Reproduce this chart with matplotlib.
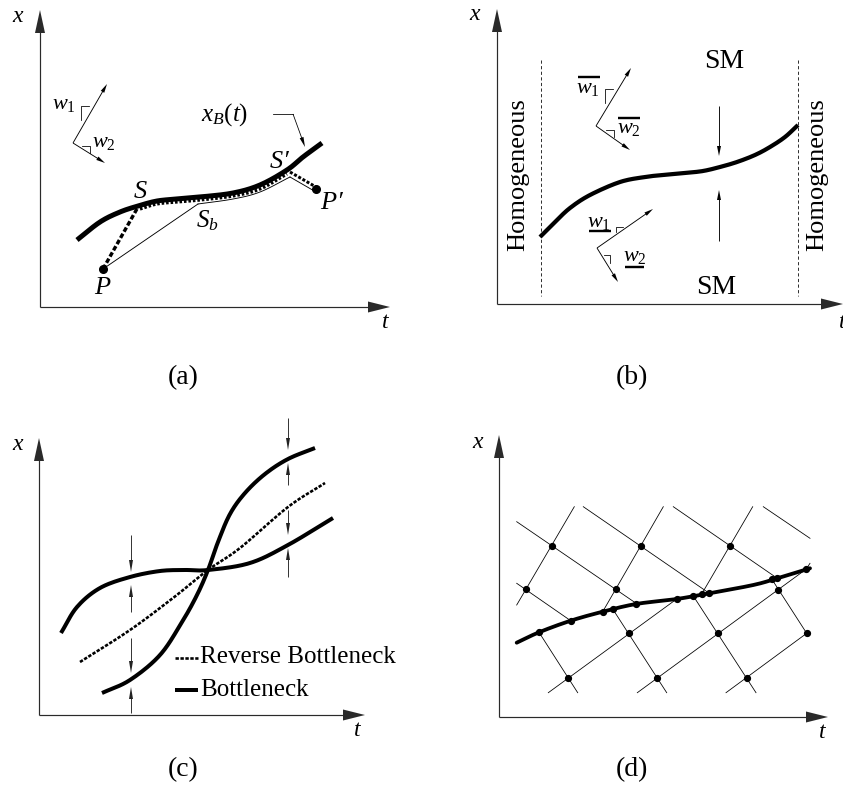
import numpy as np
import matplotlib
matplotlib.use('Agg')
import matplotlib.pyplot as plt

plt.rcParams['font.family'] = ['Liberation Serif', 'DejaVu Serif']
plt.rcParams['mathtext.fontset'] = 'custom'
plt.rcParams['mathtext.rm'] = 'Liberation Serif'
plt.rcParams['mathtext.it'] = 'Liberation Serif:italic'
plt.rcParams['mathtext.bf'] = 'Liberation Serif:bold'

# ---------------- data (figure pixel coordinates of the schematic) ----------------
# panel (a)
a_curve_t = [77, 100, 120, 138, 157, 177, 200, 233, 260, 287, 303, 322]
a_curve_x = [240, 222, 212, 206, 201, 199, 197, 193, 185, 170, 157, 143]
a_dot_t = [140, 157, 177, 200, 233, 260, 287]
a_dot_x = [209, 204, 202, 200, 196, 189, 174]
a_thin_t = [103, 198, 233, 260, 290, 316]
a_thin_x = [269, 204, 199, 192, 177, 192]
a_P = (103, 269)
a_S = (138, 207)
a_Sp = (290, 173)
a_Pp = (316, 189)

# panel (b)
b_curve_t = [540, 555, 570, 590, 620, 645, 663, 685, 703, 720, 737, 755, 770, 785, 798]
b_curve_x = [237, 222, 208, 195, 182, 177, 175, 173, 171, 167, 162, 155, 147, 137, 125]
b_bounds = [541, 798]

# panel (c)
c_up_t = [61, 77, 100, 130, 160, 185, 208, 250, 288, 333]
c_up_x = [633, 607, 588, 577, 571, 570, 570, 563, 545, 518]
c_steep_t = [102, 130, 160, 182, 197, 208, 218, 230, 245, 265, 288, 315]
c_steep_x = [693, 680, 655, 622, 595, 570, 542, 514, 493, 474, 459, 448]
c_rev_t = [80, 130, 173, 208, 240, 288, 325]
c_rev_x = [662, 630, 598, 570, 548, 507, 483]
c_arrow_t = [131, 288]
c_arrows = [[(535, 572), (612, 585), (638, 673), (713, 687)],
            [(418, 450), (485, 463), (510, 535), (577, 548)]]
c_legend = ['Reverse Bottleneck', 'Bottleneck']

# panel (d)
d_curve_t = [516.7, 539, 570.7, 602.7, 636, 676.7, 709.3, 753.3, 777.3, 810]
d_curve_x = [642.7, 632.3, 620.7, 611.7, 604, 599, 593.3, 585, 578.3, 568.3]
d_node_t = [551.7, 640.7, 730, 526, 615.7, 629, 717.7, 806.7, 568.3, 657.3, 746.7, 778.3]
d_node_x = [545.7, 545.7, 545.7, 589.3, 589.3, 633.3, 633.3, 633.3, 677.7, 677.7, 677.7, 590]
d_cross_t = [539, 570.7, 602.7, 612.7, 636, 676.7, 693.3, 701.7, 709.3, 771.7, 777.3, 806]
d_cross_x = [632.3, 620.7, 611.7, 609, 604, 599, 596, 594, 593.3, 579, 578.3, 569.3]
d_segments = [
    ((516.7, 521.7), (636.7, 603.7)), ((583.3, 506.7), (709.3, 593.3)),
    ((673.3, 506.7), (777.3, 578.3)), ((763.3, 506.7), (810, 538.3)),
    ((516.7, 583.3), (570.7, 620.7)),
    ((516.7, 605), (574.3, 506.7)), ((602.7, 611.7), (663.3, 506.7)),
    ((701.7, 594), (752.7, 506.7)), ((806, 569.3), (810, 563.3)),
    ((539, 632.3), (577.7, 692.7)), ((612.7, 609), (666.7, 692.7)),
    ((693.3, 596), (756, 692.7)), ((771.7, 579), (806.7, 633.3)),
    ((548.3, 692.7), (676.7, 599)), ((637.3, 692.7), (806, 569.3)),
    ((726, 692.7), (806.7, 633.3)),
]

# ---------------- figure ----------------
W, H = 843, 791
PT = 0.72
fig = plt.figure(figsize=(W / 100, H / 100), dpi=100)
ax = fig.add_axes([0, 0, 1, 1])
ax.set_xlim(0, W)
ax.set_ylim(H, 0)
ax.axis('off')


def smooth(ts, xs, n=16):
    p = np.column_stack([ts, xs]).astype(float)
    p = np.vstack([2 * p[0] - p[1], p, 2 * p[-1] - p[-2]])
    out = []
    for i in range(1, len(p) - 2):
        p0, p1, p2, p3 = p[i - 1], p[i], p[i + 1], p[i + 2]
        t = np.linspace(0, 1, n, endpoint=False)[:, None]
        out.append(0.5 * ((2 * p1) + (-p0 + p2) * t + (2 * p0 - 5 * p1 + 4 * p2 - p3) * t ** 2
                          + (-p0 + 3 * p1 - 3 * p2 + p3) * t ** 3))
    out.append(p[-2][None])
    q = np.vstack(out)
    return q[:, 0], q[:, 1]


def head(tip, tail, hl, hw, color='k'):
    tip = np.array(tip, float)
    tail = np.array(tail, float)
    u = (tip - tail) / np.linalg.norm(tip - tail)
    nrm = np.array([-u[1], u[0]])
    b = tip - u * hl
    pts = np.array([tip, b + nrm * hw / 2, b - nrm * hw / 2])
    ax.fill(pts[:, 0], pts[:, 1], color=color, lw=0, zorder=5)


def arrow(tail, tip, hl=9, hw=4, lw=1.0, color='k'):
    tip = np.array(tip, float)
    tail = np.array(tail, float)
    u = (tip - tail) / np.linalg.norm(tip - tail)
    end = tip - u * hl * 0.6
    ax.plot([tail[0], end[0]], [tail[1], end[1]], color=color, lw=lw * PT, solid_capstyle='butt')
    head(tip, tail, hl, hw, color)


def frame(origin, ytip, xtip):
    c = '#2a2a2a'
    arrow(origin, ytip, hl=23, hw=10, lw=1.2, color=c)
    arrow(origin, xtip, hl=22, hw=11, lw=1.2, color=c)


def lab(x, y, s, size=16, **kw):
    ax.text(x, y, s, fontsize=size, ha=kw.pop('ha', 'center'), va=kw.pop('va', 'center'), **kw)


def rangle(pts):
    p = np.array(pts, float)
    ax.plot(p[:, 0], p[:, 1], color='k', lw=0.8 * PT)


# ---------- panel (a) ----------
frame((40, 307), (40, 10), (390, 307))
lab(18, 16, '$x$', 17)
lab(386, 322, '$t$', 17)
tt, xx = smooth(a_curve_t, a_curve_x)
ax.plot(tt, xx, color='k', lw=5 * PT, solid_capstyle='butt')
tt, xx = smooth(a_dot_t, a_dot_x)
ax.plot(tt, xx, color='k', lw=3.2 * PT, dashes=(0.8, 0.6))
ax.plot(a_thin_t[:2], a_thin_x[:2], color='k', lw=0.9 * PT)
tt, xx = smooth(a_thin_t[1:5], a_thin_x[1:5])
ax.plot(tt, xx, color='k', lw=0.9 * PT)
ax.plot(a_thin_t[4:], a_thin_x[4:], color='k', lw=0.9 * PT)
ax.plot([a_P[0], a_S[0]], [a_P[1], a_S[1]], color='k', lw=3.4 * PT, dashes=(1.4, 0.7))
ax.plot([a_Sp[0], a_Pp[0]], [a_Sp[1] - 1, a_Pp[1] - 2], color='k', lw=3.0 * PT, dashes=(1.0, 0.6))
ax.plot([a_P[0], a_Pp[0]], [a_P[1], a_Pp[1]], 'o', color='k', ms=5.5, ls='none')
lab(140, 192, '$S$', 19)
lab(207, 221, '$S_b$', 18)
lab(280, 162, "$S$\u2032", 19, style='italic')
lab(332, 203, "$P$\u2032", 19, style='italic')
lab(103, 288, '$P$', 19)
lab(225, 115, '$x_B(t)$', 18)
ax.plot([273, 293], [114, 114], color='k', lw=0.8 * PT)
arrow((293, 114), (305, 147), hl=10, hw=4, lw=0.8)
arrow((73, 143), (107, 84), hl=9, hw=4, lw=0.9)
arrow((73, 143), (105, 163), hl=9, hw=4, lw=0.9)
lab(52, 105, '$w_1$', 16, ha='left')
lab(92, 142, '$w_2$', 16, ha='left')
rangle([(81, 120), (81, 106), (89, 106)])
rangle([(82, 146), (90, 146), (90, 153)])
lab(183, 378, '(a)', 20)

# ---------- panel (b) ----------
frame((497, 304), (497, 9), (843, 304))
lab(475, 15, '$x$', 17)
lab(843, 322, '$t$', 17)
for bx in b_bounds:
    ax.plot([bx, bx], [60, 296], color='k', lw=0.8 * PT, dashes=(4, 3))
lab(518, 175, 'Homogeneous', 19, rotation=90)
lab(817, 175, 'Homogeneous', 19, rotation=90)
tt, xx = smooth(b_curve_t, b_curve_x)
ax.plot(tt, xx, color='k', lw=4.2 * PT, solid_capstyle='butt')
arrow((719, 106), (719, 156), hl=10, hw=4, lw=0.9)
arrow((719, 241), (719, 190), hl=10, hw=4, lw=0.9)
lab(724, 62, 'SM', 20)
lab(716, 288, 'SM', 20)
arrow((596, 126), (631, 68), hl=9, hw=4, lw=0.9)
arrow((596, 126), (630, 150), hl=9, hw=4, lw=0.9)
lab(576, 89, '$w_1$', 16, ha='left')
lab(617, 128, '$w_2$', 16, ha='left')
ax.plot([578, 600], [77, 77], color='k', lw=2.4 * PT, solid_capstyle='butt')
ax.plot([618, 640], [118, 118], color='k', lw=2.4 * PT, solid_capstyle='butt')
rangle([(605, 103), (605, 89), (613, 89)])
rangle([(606, 130), (614, 130), (614, 137)])
arrow((597, 248), (653, 209), hl=9, hw=4, lw=0.9)
arrow((597, 248), (618, 282), hl=9, hw=4, lw=0.9)
lab(587, 222, '$w_1$', 16, ha='left')
lab(623, 257, '$w_2$', 16, ha='left')
ax.plot([589, 611], [231, 231], color='k', lw=2.4 * PT, solid_capstyle='butt')
ax.plot([625, 644], [267, 267], color='k', lw=2.4 * PT, solid_capstyle='butt')
rangle([(616, 232), (616, 227), (623, 227)])
rangle([(604, 255), (610, 255), (610, 263)])
lab(632, 378, '(b)', 20)

# ---------- panel (c) ----------
frame((39, 715), (39, 438), (365, 715))
lab(18, 445, '$x$', 17)
lab(358, 731, '$t$', 17)
for ts, xs in [(c_up_t, c_up_x), (c_steep_t, c_steep_x)]:
    tt, xx = smooth(ts, xs)
    ax.plot(tt, xx, color='k', lw=4 * PT, solid_capstyle='butt')
tt, xx = smooth(c_rev_t, c_rev_x)
ax.plot(tt, xx, color='k', lw=2.6 * PT, dashes=(1.3, 0.6))
for cx, arrs in zip(c_arrow_t, c_arrows):
    for y0, y1 in arrs:
        arrow((cx, y0), (cx, y1), hl=12, hw=4, lw=0.9, color='#222222')
ax.plot([175, 198], [658, 658], color='k', lw=2.6 * PT, dashes=(1.3, 0.6))
ax.plot([175, 198], [690, 690], color='k', lw=4 * PT, solid_capstyle='butt')
lab(200, 657, c_legend[0], 18, ha='left')
lab(200, 690, c_legend[1], 18, ha='left')
lab(183, 770, '(c)', 20)

# ---------- panel (d) ----------
frame((499, 717), (499, 435), (828, 717))
lab(478, 442, '$x$', 17)
lab(823, 733, '$t$', 17)
for (p0, p1) in d_segments:
    ax.plot([p0[0], p1[0]], [p0[1], p1[1]], color='k', lw=0.8 * PT)
tt, xx = smooth(d_curve_t, d_curve_x)
ax.plot(tt, xx, color='k', lw=3.8 * PT, solid_capstyle='round')
ax.plot(d_node_t, d_node_x, 'o', color='k', ms=4.2, ls='none')
ax.plot(d_cross_t, d_cross_x, 'o', color='k', ms=4.2, ls='none')
lab(632, 770, '(d)', 20)

fig.savefig('out.png', dpi=100)
